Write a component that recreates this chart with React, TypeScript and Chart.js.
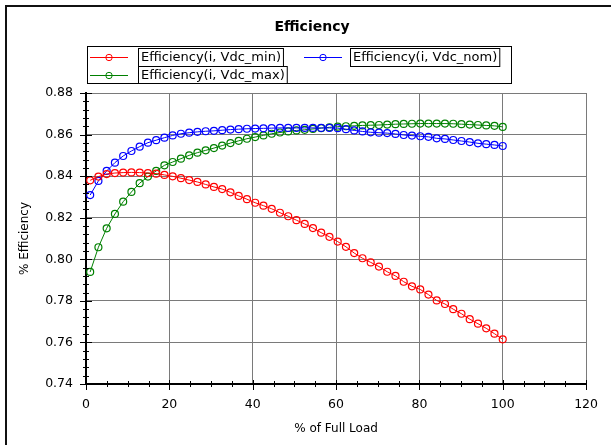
import React, { useEffect, useRef } from "react";
import { Chart, registerables } from "chart.js";

Chart.register(...registerables);

// ---------------- data ----------------
const loadPct = [
  1.0, 2.98, 4.96, 6.94, 8.92, 10.9, 12.88, 14.86, 16.84, 18.82,
  20.8, 22.78, 24.76, 26.74, 28.72, 30.7, 32.68, 34.66, 36.64, 38.62,
  40.6, 42.58, 44.56, 46.54, 48.52, 50.5, 52.48, 54.46, 56.44, 58.42,
  60.4, 62.38, 64.36, 66.34, 68.32, 70.3, 72.28, 74.26, 76.24, 78.22,
  80.2, 82.18, 84.16, 86.14, 88.12, 90.1, 92.08, 94.06, 96.04, 98.02,
  100.0,
];

const effVdcMin = [
  0.838, 0.8398, 0.841, 0.8415, 0.8417, 0.8418, 0.8417, 0.8415, 0.8412, 0.8406,
  0.8399, 0.839, 0.8381, 0.8372, 0.836, 0.8348, 0.8338, 0.8322, 0.8305, 0.8289,
  0.8272, 0.8258, 0.8243, 0.8224, 0.8207, 0.8188, 0.817, 0.815, 0.8128, 0.8108,
  0.8085, 0.806, 0.803, 0.8005, 0.7985, 0.7965, 0.794, 0.792, 0.7892, 0.787,
  0.7855, 0.783, 0.7802, 0.7785, 0.776, 0.7738, 0.7712, 0.769, 0.7668, 0.7642,
  0.7615,
];

const effVdcNom = [
  0.8309, 0.8377, 0.8425, 0.8465, 0.8497, 0.8521, 0.8542, 0.8561, 0.8573, 0.8585,
  0.8596, 0.8604, 0.8609, 0.8613, 0.8616, 0.8618, 0.8621, 0.8624, 0.8626, 0.8628,
  0.8629, 0.863, 0.8631, 0.8632, 0.8632, 0.8632, 0.8632, 0.8632, 0.8632, 0.8632,
  0.8631, 0.8626, 0.862, 0.8615, 0.8611, 0.8609, 0.8607, 0.8603, 0.8598, 0.8595,
  0.8592, 0.8589, 0.8582, 0.8579, 0.8574, 0.8569, 0.8564, 0.8558, 0.8554, 0.855,
  0.8545,
];

const effVdcMax = [
  0.7939, 0.8058, 0.8149, 0.8218, 0.8277, 0.8324, 0.8366, 0.8398, 0.8425, 0.8452,
  0.8468, 0.8484, 0.85, 0.8513, 0.8524, 0.8535, 0.8547, 0.8559, 0.857, 0.858,
  0.8588, 0.8596, 0.8604, 0.861, 0.8615, 0.862, 0.8623, 0.8627, 0.8631, 0.8635,
  0.8638, 0.864, 0.8642, 0.8644, 0.8645, 0.8646, 0.8648, 0.865, 0.8651, 0.8652,
  0.8653, 0.8653, 0.8653, 0.8653, 0.8652, 0.865, 0.8648, 0.8646, 0.8644, 0.8642,
  0.8637,
];

const seriesLabels = [
  "Efficiency(i, Vdc_min)",
  "Efficiency(i, Vdc_nom)",
  "Efficiency(i, Vdc_max)",
];
const seriesColors = ["#ff0000", "#0000ff", "#008000"];

const xTickValues = [0, 20, 40, 60, 80, 100, 120];
const yTickValues = [0.74, 0.76, 0.78, 0.8, 0.82, 0.84, 0.86, 0.88];

const chartTitle = "Efficiency";
const xTitle = "% of Full Load";
const yTitle = "% Efficiency";

const FONT = '"DejaVu Sans", "Liberation Sans", Arial, sans-serif';

// ---------------- drawing helpers ----------------
const decorPlugin = {
  id: "decor",
  afterDraw(chart: any) {
    const ctx: CanvasRenderingContext2D = chart.ctx;
    const xs = chart.scales.x;
    const ys = chart.scales.y;
    const area = chart.chartArea;
    ctx.save();

    // minor + major tick marks
    ctx.strokeStyle = "#000";
    ctx.lineWidth = 1;
    ctx.beginPath();
    const xMin = xTickValues[0];
    const xMax = xTickValues[xTickValues.length - 1];
    const xStep = (xTickValues[1] - xTickValues[0]) / 4;
    let idx = 0;
    for (let v = xMin; v <= xMax + 1e-9; v += xStep, idx++) {
      const px = Math.round(xs.getPixelForValue(v)) + 0.5;
      const major = idx % 4 === 0;
      const b = Math.round(area.bottom);
      ctx.moveTo(px, b + (major ? -4 : -3));
      ctx.lineTo(px, b + (major ? 6 : 3));
    }
    const yMin = yTickValues[0];
    const yMax = yTickValues[yTickValues.length - 1];
    const yStep = (yTickValues[1] - yTickValues[0]) / 5;
    const nY = Math.round((yMax - yMin) / yStep);
    for (let i = 0; i <= nY; i++) {
      const v = yMin + i * yStep;
      const py = Math.round(ys.getPixelForValue(v)) + 0.5;
      const major = i % 5 === 0;
      const l = Math.round(area.left);
      ctx.moveTo(l + (major ? -6 : -3), py);
      ctx.lineTo(l + (major ? 6 : 3), py);
    }
    ctx.stroke();

    // title
    ctx.fillStyle = "#000";
    ctx.font = `bold 14px ${FONT}`;
    ctx.textAlign = "center";
    ctx.textBaseline = "middle";
    ctx.fillText(chartTitle, 312, 27);

    // legend
    const ds = chart.data.datasets;
    ctx.lineWidth = 1;
    ctx.strokeStyle = "#000";
    ctx.strokeRect(87.5, 46.5, 424, 37);
    ctx.font = `13px ${FONT}`;
    ctx.textAlign = "left";
    const entries = [
      { d: 0, lx: 90, tx: 138, top: 48, h: 18 },
      { d: 1, lx: 304, tx: 350, top: 48, h: 18 },
      { d: 2, lx: 90, tx: 138, top: 66, h: 17 },
    ];
    for (const e of entries) {
      const d = ds[e.d];
      const cy = e.top + e.h / 2;
      ctx.strokeStyle = d.borderColor;
      ctx.beginPath();
      ctx.moveTo(e.lx, Math.round(cy) + 0.5);
      ctx.lineTo(e.lx + 38, Math.round(cy) + 0.5);
      ctx.stroke();
      ctx.beginPath();
      ctx.arc(e.lx + 19, Math.round(cy) + 0.5, 3.2, 0, Math.PI * 2);
      ctx.stroke();
      const tw = ctx.measureText(d.label).width;
      ctx.strokeStyle = "#000";
      ctx.strokeRect(e.tx + 0.5, e.top + 0.5, tw + 5, e.h);
      ctx.fillStyle = "#000";
      ctx.fillText(d.label, e.tx + 3, cy + 1);
    }
    ctx.restore();
  },
};

export default function App() {
  const ref = useRef<HTMLCanvasElement | null>(null);

  useEffect(() => {
    if (!ref.current) return;
    const series = [effVdcMin, effVdcNom, effVdcMax];
    const chart = new Chart(ref.current, {
      type: "line",
      data: {
        datasets: series.map((vals, i) => ({
          label: seriesLabels[i],
          data: loadPct.map((x, k) => ({ x, y: vals[k] })),
          borderColor: seriesColors[i],
          backgroundColor: "rgba(0,0,0,0)",
          pointBackgroundColor: "rgba(0,0,0,0)",
          pointBorderColor: seriesColors[i],
          pointRadius: 3.5,
          pointBorderWidth: 1.2,
          borderWidth: 1,
          tension: 0,
          fill: false,
        })),
      },
      options: {
        animation: false,
        responsive: false,
        devicePixelRatio: 1,
        layout: { padding: { left: 0, right: 20, top: 93, bottom: 5 } },
        plugins: {
          legend: { display: false },
          title: { display: false },
          tooltip: { enabled: false },
        },
        scales: {
          x: {
            type: "linear",
            min: xTickValues[0],
            max: xTickValues[xTickValues.length - 1],
            afterBuildTicks: (s: any) => {
              s.ticks = xTickValues.map((v) => ({ value: v }));
            },
            afterFit: (s: any) => {
              s.height = 56;
            },
            ticks: {
              color: "#000",
              font: { family: FONT, size: 12.5 },
              padding: 13,
              maxRotation: 0,
              callback: (v: any) => String(v),
            },
            grid: {
              color: "#7a7a7a",
              lineWidth: 1,
              borderDash: [4, 2],
              drawTicks: false,
            },
            border: { display: true, color: "#000", width: 2 },
            title: {
              display: true,
              text: xTitle,
              color: "#000",
              font: { family: FONT, size: 12 },
              padding: { top: 0, bottom: 4 },
            },
          },
          y: {
            type: "linear",
            min: yTickValues[0],
            max: yTickValues[yTickValues.length - 1],
            afterBuildTicks: (s: any) => {
              s.ticks = yTickValues.map((v) => ({ value: v }));
            },
            afterFit: (s: any) => {
              s.width = 86;
            },
            ticks: {
              color: "#000",
              font: { family: FONT, size: 12.5 },
              padding: 13,
              callback: (v: any) => Number(v).toFixed(2),
            },
            grid: {
              color: "#7a7a7a",
              lineWidth: 1,
              borderDash: [4, 2],
              drawTicks: false,
            },
            border: { display: true, color: "#000", width: 2 },
            title: {
              display: true,
              text: yTitle,
              color: "#000",
              font: { family: FONT, size: 12 },
              padding: { top: 18, bottom: 0 },
            },
          },
        },
      },
      plugins: [decorPlugin],
    } as any);
    return () => chart.destroy();
  }, []);

  return (
    <div
      style={{
        position: "fixed",
        left: 0,
        top: 0,
        width: 611,
        height: 445,
        background: "#fff",
        overflow: "hidden",
      }}
    >
      <div
        style={{
          position: "absolute",
          left: 5,
          top: 5,
          width: 620,
          height: 460,
          borderLeft: "2px solid #111",
          borderTop: "2px solid #111",
        }}
      />
      <canvas
        ref={ref}
        width={611}
        height={445}
        style={{ position: "absolute", left: 0, top: 0, display: "block" }}
      />
    </div>
  );
}
